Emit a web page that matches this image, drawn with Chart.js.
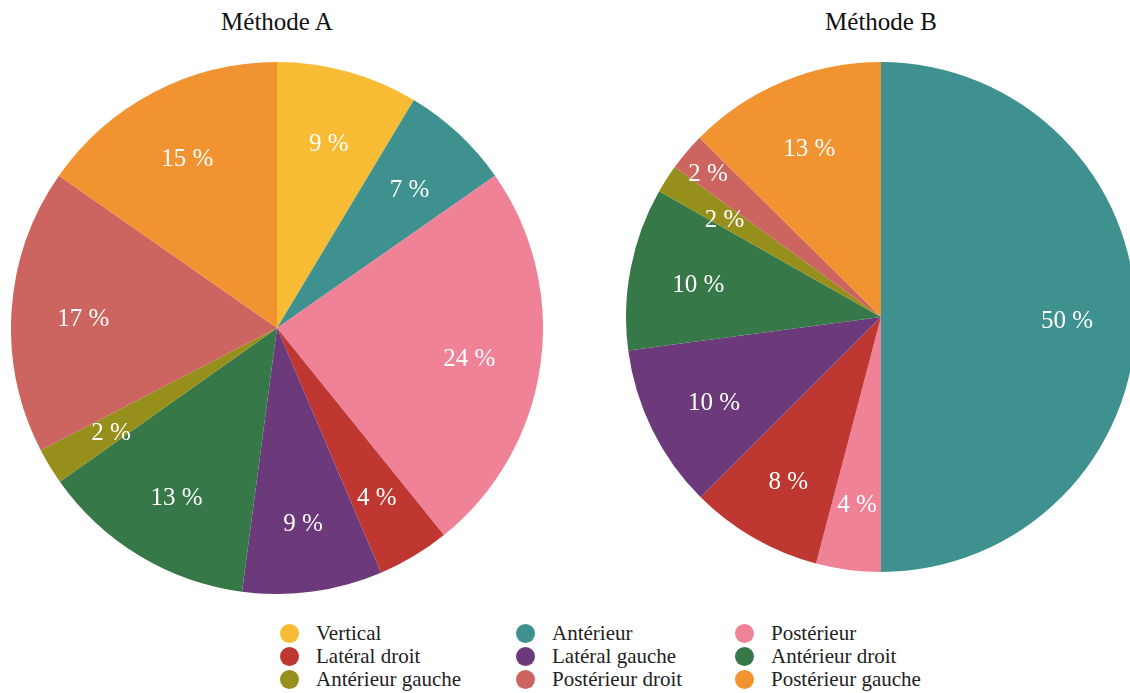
<!DOCTYPE html>
<html>
<head>
<meta charset="utf-8">
<script src="https://cdn.jsdelivr.net/npm/chart.js@4.4.1/dist/chart.umd.min.js"></script>
<style>
    html, body { margin: 0; padding: 0; background: #fff; overflow: hidden; }
    body { width: 1130px; height: 693px; position: relative; font-family: "Liberation Serif", "DejaVu Serif", serif; }
    .titre { position: absolute; top: 7px; font-size: 25px; line-height: 29px; color: #111; text-align: center; width: 300px; }
    canvas { position: absolute; }
    #legende { position: absolute; top: 622px; left: 280px; }
    .item { position: absolute; white-space: nowrap; font-size: 21px; color: #222; height: 23px; line-height: 23px; }
    .item span.pt { position: absolute; left: 0; top: 2px; width: 19px; height: 19px; border-radius: 50%; }
    .item span.txt { position: absolute; left: 36px; top: 0; }
</style>
</head>
<body>
<div class="titre" style="left:127px">Méthode A</div>
<div class="titre" style="left:731px">Méthode B</div>
<canvas id="pieA" width="532" height="532" style="left:11px; top:62px"></canvas>
<canvas id="pieB" width="510" height="510" style="left:626px; top:62px"></canvas>
<div id="legende"></div>
<script>
const categories = ['Vertical', 'Antérieur', 'Postérieur', 'Latéral droit', 'Latéral gauche',
    'Antérieur droit', 'Antérieur gauche', 'Postérieur droit', 'Postérieur gauche'];
const couleurs = ['#f7bc34', '#3e918f', '#ef8297', '#bf3731', '#6c3a7a',
    '#367848', '#978f1c', '#cc6560', '#f29332'];
// pourcentages
const methodeA = [8.6, 6.7, 23.9, 4.4, 8.5, 13.1, 2.2, 17.3, 15.3];
const methodeB = [0, 50, 4.1, 8.4, 10.4, 10.3, 1.8, 2.4, 12.6];

// étiquettes "xx %" dans les parts, décalées vers l'extérieur si chevauchement
const etiquettes = {
    id: 'etiquettes',
    afterDatasetsDraw(chart) {
        const ctx = chart.ctx;
        const meta = chart.getDatasetMeta(0);
        const data = chart.data.datasets[0].data;
        const total = data.reduce((a, b) => a + b, 0);
        const places = [];
        ctx.save();
        ctx.font = '25px "Liberation Serif", serif';
        ctx.fillStyle = '#fff';
        ctx.textAlign = 'center';
        ctx.textBaseline = 'middle';
        meta.data.forEach((arc, i) => {
            if (!data[i]) return;
            const p = arc.getProps(['x', 'y', 'startAngle', 'endAngle', 'outerRadius'], true);
            const a = (p.startAngle + p.endAngle) / 2;
            const txt = Math.round(data[i] / total * 100) + ' %';
            const w = ctx.measureText(txt).width, h = 46;
            let k = 0.73, x, y;
            for (;;) {
                x = p.x + Math.cos(a) * p.outerRadius * k;
                y = p.y + Math.sin(a) * p.outerRadius * k;
                const gene = places.some(b => Math.abs(b.x - x) < (b.w + w) / 2 && Math.abs(b.y - y) < h);
                if (!gene || k > 0.95) break;
                k += 0.02;
            }
            places.push({ x, y, w });
            ctx.fillText(txt, x, y + 4);
        });
        ctx.restore();
    }
};

function creerCamembert(id, valeurs) {
    const ctx = document.getElementById(id).getContext('2d');
    return new Chart(ctx, {
        type: 'pie',
        data: {
            labels: categories,
            datasets: [{
                data: valeurs,
                backgroundColor: couleurs,
                borderWidth: 0
            }]
        },
        options: {
            responsive: false,
            animation: false,
            layout: { padding: 0 },
            plugins: {
                legend: { display: false },
                tooltip: { enabled: false }
            }
        },
        plugins: [etiquettes]
    });
}

creerCamembert('pieA', methodeA);
creerCamembert('pieB', methodeB);

// légende commune sur trois colonnes
const legende = document.getElementById('legende');
const colonnes = [0, 236, 455];
categories.forEach((nom, i) => {
    const el = document.createElement('div');
    el.className = 'item';
    el.style.left = colonnes[i % 3] + 'px';
    el.style.top = Math.floor(i / 3) * 23 + 'px';
    el.innerHTML = '<span class="pt" style="background:' + couleurs[i] + '"></span><span class="txt">' + nom + '</span>';
    legende.appendChild(el);
});
</script>
</body>
</html>
